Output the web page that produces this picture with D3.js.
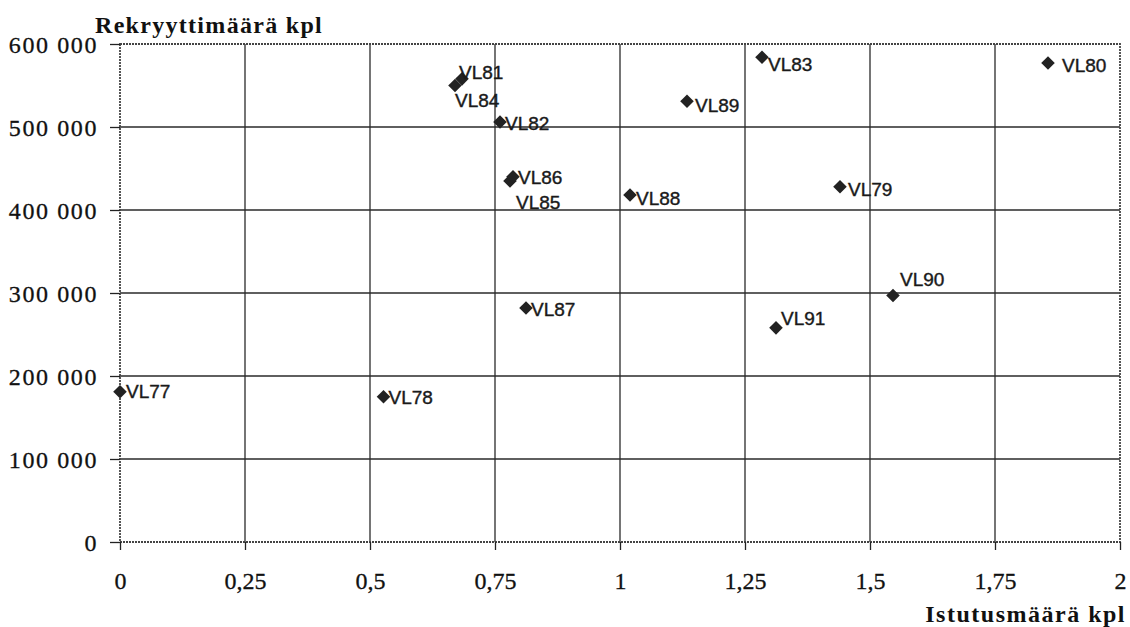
<!DOCTYPE html>
<html>
<head>
<meta charset="utf-8">
<script src="https://cdn.jsdelivr.net/npm/d3@7/dist/d3.min.js"></script>
<style>
  html, body { margin: 0; padding: 0; background: #fff; }
  svg { display: block; }
</style>
</head>
<body>
<script>
// Rekryyttimäärä vs. istutusmäärä, vuosiluokat VL77–VL91
const years = ["VL77", "VL78", "VL79", "VL80", "VL81", "VL82", "VL83", "VL84",
               "VL85", "VL86", "VL87", "VL88", "VL89", "VL90", "VL91"];
const istutus = [0.00, 0.527, 1.44, 1.856, 0.684, 0.76, 1.284, 0.67,
                 0.78, 0.786, 0.812, 1.02, 1.134, 1.546, 1.312];
const rekryytit = [181000, 175000, 428000, 577000, 558000, 506000, 584000, 550000,
                   435000, 440000, 282000, 418000, 531000, 297000, 258000];

const xTicks = [0, 0.25, 0.5, 0.75, 1, 1.25, 1.5, 1.75, 2];
const yTicks = [0, 100000, 200000, 300000, 400000, 500000, 600000];

const xTitle = "Istutusmäärä kpl";
const yTitle = "Rekryyttimäärä kpl";

// label placement relative to each marker (dx, dy to text baseline)
const labelOffset = {
  VL77: [6, 6], VL78: [5, 7], VL79: [8, 9], VL80: [14, 9], VL81: [-3, 0],
  VL82: [5, 8], VL83: [6, 14], VL84: [0, 21], VL85: [6, 28], VL86: [5, 7],
  VL87: [5, 8], VL88: [6, 10], VL89: [8, 11], VL90: [7, -9], VL91: [5, -3]
};

const serif = "'Liberation Serif', 'Times New Roman', serif";
const sans = "'Liberation Sans', Arial, sans-serif";

const W = 1130, H = 627;
const svg = d3.select("body").append("svg").attr("width", W).attr("height", H);

const x = d3.scaleLinear().domain([0, 2]).range([120, 1120]);
const y = d3.scaleLinear().domain([0, 600000]).range([542, 44]);

const fmtX = v => String(v).replace(".", ",");
const fmtY = v => d3.format(",")(v).replace(/,/g, " ");

// grid
svg.append("g").selectAll("line").data(xTicks.slice(1, -1)).join("line")
  .attr("x1", d => x(d)).attr("x2", d => x(d))
  .attr("y1", y(600000)).attr("y2", y(0))
  .attr("stroke", "#2a2a2a").attr("stroke-width", 1.3);
svg.append("g").selectAll("line").data(yTicks.slice(1, -1)).join("line")
  .attr("x1", x(0)).attr("x2", x(2))
  .attr("y1", d => y(d)).attr("y2", d => y(d))
  .attr("stroke", "#2a2a2a").attr("stroke-width", 1.3);

// plot frame
svg.append("rect")
  .attr("x", x(0)).attr("y", y(600000))
  .attr("width", x(2) - x(0)).attr("height", y(0) - y(600000))
  .attr("fill", "none").attr("stroke", "#444").attr("stroke-width", 1.8)
  .attr("stroke-dasharray", "2 1");

// axes
const xAxis = d3.axisBottom(x).tickValues(xTicks).tickFormat(fmtX).tickSize(8).tickPadding(22);
const yAxis = d3.axisLeft(y).tickValues(yTicks).tickFormat(fmtY).tickSize(10).tickPadding(12);

const gx = svg.append("g").attr("transform", `translate(0,${y(0)})`).call(xAxis);
const gy = svg.append("g").attr("transform", `translate(${x(0)},0)`).call(yAxis);

[gx, gy].forEach(g => {
  g.attr("font-family", serif).attr("font-size", 24);
  g.select(".domain").remove();
  g.selectAll(".tick line").attr("stroke", "#222").attr("stroke-width", 1.3);
  g.selectAll(".tick text")
    .attr("fill", "#111")
    .attr("stroke", "#111").attr("stroke-width", 0.3)
    .style("font-family", serif)
    .style("font-size", "24px");
});
gy.selectAll(".tick text").style("letter-spacing", "1.6px").attr("dy", "0.34em");
gx.selectAll(".tick text").attr("dy", "0.71em");

// axis titles
svg.append("text").attr("x", 95).attr("y", 33).text(yTitle)
  .attr("fill", "#111")
  .style("font-family", serif).style("letter-spacing", "1.3px")
  .style("font-weight", "bold").style("font-size", "24px");
svg.append("text").attr("x", 1126).attr("y", 622).attr("text-anchor", "end").text(xTitle)
  .attr("fill", "#111")
  .style("font-family", serif).style("letter-spacing", "1.5px")
  .style("font-weight", "bold").style("font-size", "24px");

// points
const pts = years.map((k, i) => ({ k, x: istutus[i], y: rekryytit[i] }));
const diamond = d3.symbol().type(d3.symbolSquare).size(92);

svg.append("g").selectAll("path").data(pts).join("path")
  .attr("d", diamond)
  .attr("transform", d => `translate(${x(d.x)},${y(d.y)}) rotate(45)`)
  .attr("fill", "#222");

svg.append("g").selectAll("text").data(pts).join("text")
  .attr("x", d => x(d.x) + labelOffset[d.k][0])
  .attr("y", d => y(d.y) + labelOffset[d.k][1])
  .text(d => d.k)
  .attr("fill", "#1a1a1a")
  .attr("stroke", "#1a1a1a").attr("stroke-width", 0.4)
  .style("font-family", sans)
  .style("font-size", "19px");
</script>
</body>
</html>
